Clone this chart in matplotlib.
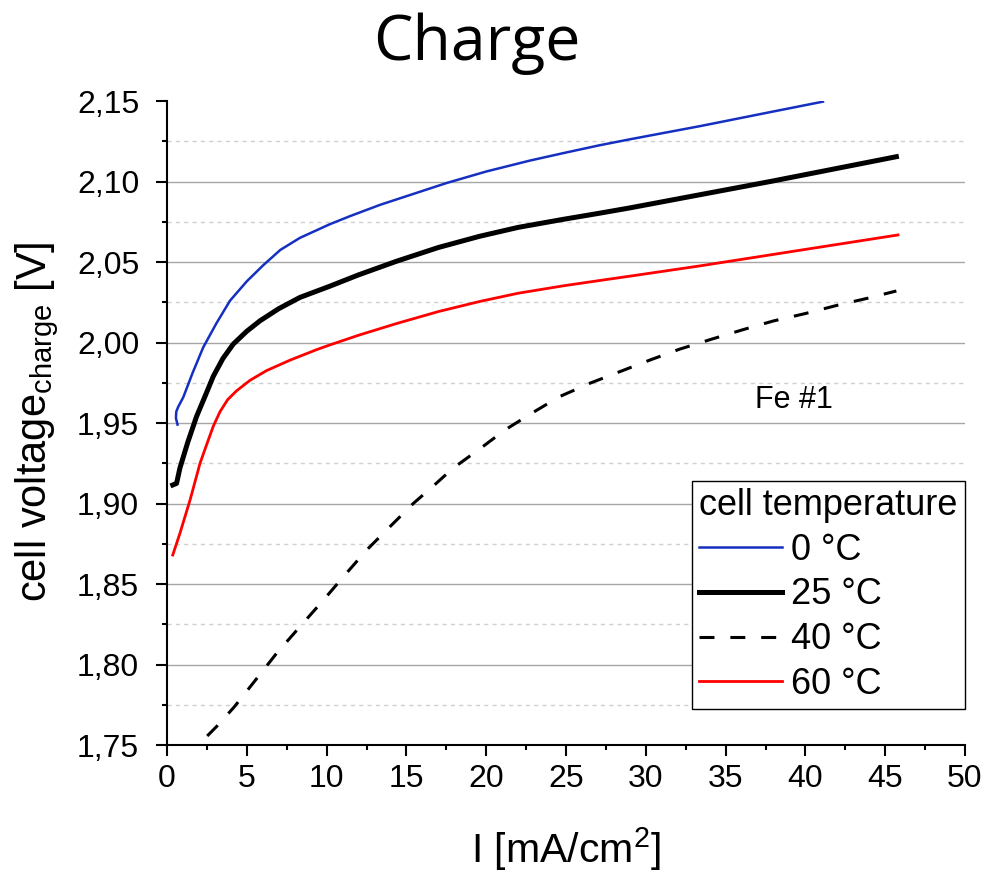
import matplotlib
matplotlib.use('Agg')
import matplotlib.pyplot as plt
from matplotlib.ticker import MultipleLocator, FuncFormatter

plt.rcParams['font.family'] = ['Liberation Sans', 'DejaVu Sans']
plt.rcParams['mathtext.fontset'] = 'custom'
plt.rcParams['mathtext.rm'] = 'Liberation Sans'
plt.rcParams['mathtext.it'] = 'Liberation Sans:italic'
plt.rcParams['mathtext.bf'] = 'Liberation Sans:bold'

# ---- data ----
labels = ['0 °C', '25 °C', '40 °C', '60 °C']

x_0C = [0.66, 0.56, 0.58, 0.7, 1.02, 1.6, 2.27, 3.1, 3.95, 5.0, 6.03, 7.1, 8.33, 10.21, 11.47,
        13.35, 15.5, 17.5, 20.0, 22.74, 25.0, 27.1, 29.0, 33.4, 38.0, 41.1]
y_0C = [1.949, 1.953, 1.957, 1.960, 1.966, 1.981, 1.997, 2.012, 2.026, 2.038, 2.048, 2.0575, 2.065, 2.0735, 2.0785,
        2.0855, 2.0925, 2.0990, 2.1062, 2.1130, 2.1180, 2.1225, 2.1262, 2.1344, 2.1435, 2.1496]

x_25C = [0.36, 0.6, 0.81, 1.3, 1.85, 2.4, 2.9, 3.5, 4.15, 5.0, 5.83, 7.0, 8.33, 10.21, 12.0,
         14.39, 17.0, 19.6, 22.0, 24.83, 27.1, 29.0, 33.4, 37.8, 41.5, 45.7]
y_25C = [1.9115, 1.9125, 1.922, 1.938, 1.954, 1.967, 1.979, 1.990, 1.999, 2.007, 2.0135, 2.021, 2.028, 2.035, 2.042,
         2.0505, 2.059, 2.066, 2.0715, 2.0765, 2.0803, 2.0836, 2.0918, 2.1000, 2.1072, 2.1154]

x_40C = [2.52, 3.1, 4.2, 5.2, 6.87, 8.33, 9.8, 11.05, 12.5, 13.97, 15.43, 16.7, 17.93, 19.5,
         21.18, 22.84, 24.6, 26.5, 28.4, 30.26, 32.1, 34.1, 36.1, 38.0, 40.0, 41.95, 43.9, 45.7]
y_40C = [1.7556, 1.7614, 1.7735, 1.786, 1.807, 1.8235, 1.840, 1.8545, 1.871, 1.8856, 1.900, 1.911, 1.922, 1.9332,
         1.9457, 1.956, 1.9664, 1.9747, 1.982, 1.9891, 1.9958, 2.002, 2.008, 2.0134, 2.018, 2.023, 2.0275, 2.032]

x_60C = [0.36, 0.81, 1.44, 2.07, 2.59, 2.9, 3.32, 3.8, 4.36, 5.2, 6.23, 7.7, 9.36, 10.21, 12.0, 14.39,
         17.0, 19.6, 22.0, 24.83, 27.1, 29.0, 33.4, 39.66, 45.8]
y_60C = [1.868, 1.8815, 1.902, 1.925, 1.9395, 1.948, 1.957, 1.9645, 1.970, 1.9765, 1.9825, 1.989, 1.9955, 1.9985, 2.0045, 2.0118,
         2.0192, 2.0255, 2.0306, 2.0352, 2.0385, 2.0412, 2.0476, 2.0573, 2.0668]

# ---- figure ----
fig = plt.figure(figsize=(9.92, 8.72), dpi=100)
ax = fig.add_axes([167/992, 1-745/872, 798/992, 644/872])
ax.set_axisbelow(True)

ax.plot(x_0C, y_0C, color='#1530c0', lw=1.8, label=labels[0])
ax.plot(x_25C, y_25C, color='black', lw=3.6, label=labels[1])
ax.plot(x_40C, y_40C, color='black', lw=2.2, ls=(0, (4.9, 5.2)), label=labels[2])
ax.plot(x_60C, y_60C, color='#ff0000', lw=2.0, label=labels[3])

ax.set_xlim(0, 50)
ax.set_ylim(1.75, 2.15)
ax.xaxis.set_major_locator(MultipleLocator(5))
ax.xaxis.set_minor_locator(MultipleLocator(2.5))
ax.yaxis.set_major_locator(MultipleLocator(0.05))
ax.yaxis.set_minor_locator(MultipleLocator(0.025))
ax.yaxis.set_major_formatter(FuncFormatter(lambda v, p: f'{v:.2f}'.replace('.', ',')))

ax.tick_params(which='major', direction='out', length=8, width=1.5, labelsize=23, color='black')
ax.tick_params(which='minor', direction='out', length=3.6, width=1.5, color='black')
ax.tick_params(axis='y', which='major', pad=12)
ax.tick_params(axis='x', which='major', pad=6)

for s in ['top', 'right']:
    ax.spines[s].set_visible(False)
for s in ['left', 'bottom']:
    ax.spines[s].set_linewidth(1.5)

ax.yaxis.grid(True, which='major', color='#a6a6a6', lw=1.0, ls='-')
ax.yaxis.grid(True, which='minor', color='#d0d0d0', lw=1.0, ls=(0, (3, 3)))

ax.set_xlabel('I [mA/cm$^{\\mathrm{2}}$]', fontsize=29.5)
ax.xaxis.set_label_coords(0.5, -0.124)
fig.text(37/992, 1-422/872, 'cell voltage$_{\\mathrm{charge}}$ [V]', rotation=90,
         ha='center', va='center', fontsize=30)

fig.text(477/992, 1-60/872, 'Charge', fontsize=45, family=['Open Sans', 'DejaVu Sans'],
         ha='center', va='baseline')

ax.text(36.84, 1.9591, 'Fe #1', fontsize=22, ha='left', va='baseline')

leg = ax.legend(loc='upper left', bbox_to_anchor=(0.6575, 0.4104), borderaxespad=0,
                title='cell temperature', fontsize=26, title_fontsize=26, frameon=True,
                fancybox=False, edgecolor='black', framealpha=1, handlelength=2.3,
                handletextpad=0.25, borderpad=0.2, labelspacing=0.27, alignment='left')
leg.get_frame().set_linewidth(1.0)

fig.canvas.draw()
for t in ax.yaxis.get_major_ticks():
    loc = t.get_loc()
    if abs(loc - 2.15) < 1e-6 or abs(loc - 1.75) < 1e-6:
        t.gridline.set_visible(False)

fig.savefig('out.png', dpi=100)
